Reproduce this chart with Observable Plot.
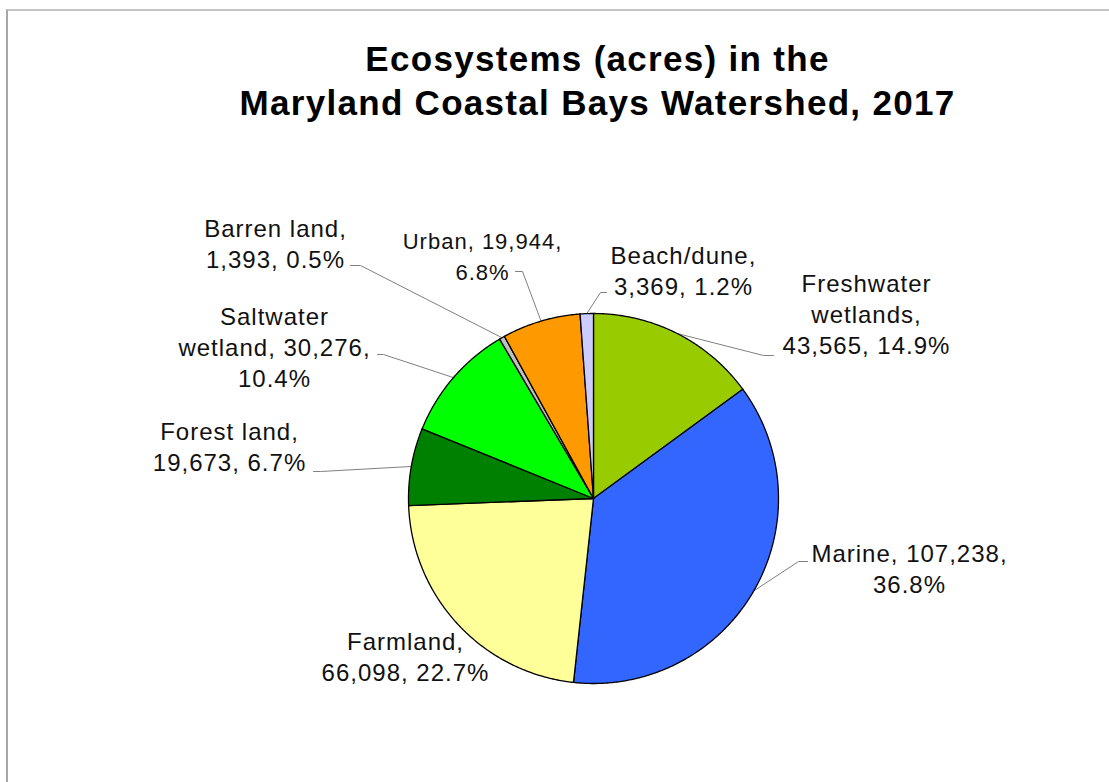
<!DOCTYPE html>
<html>
<head>
<meta charset="utf-8">
<script src="https://cdn.jsdelivr.net/npm/d3@7"></script>
<script src="https://cdn.jsdelivr.net/npm/@observablehq/plot@0.6"></script>
<style>
  html, body { margin: 0; padding: 0; background: #fff; width: 1109px; height: 782px; overflow: hidden; }
  #frame { position: absolute; left: 6px; top: 9px; width: 1120px; height: 800px;
           border-top: 2px solid #c4c4c4; border-left: 2px solid #a6a6a6; pointer-events: none; }
  #title { position: absolute; left: 0; top: 0; width: 1195px; height: 140px; box-sizing: border-box;
           padding-top: 37px; text-align: center; font-family: "Liberation Sans", Arial, sans-serif;
           font-weight: bold; font-size: 35px; line-height: 44px; letter-spacing: 1.3px; color: #000; }
  #chart { position: absolute; left: 0; top: 140px; }
</style>
</head>
<body>
<div id="frame"></div>
<div id="title">Ecosystems (acres) in the<br>Maryland Coastal Bays Watershed, 2017</div>
<div id="chart"></div>
<script>
// ---- data ----
const categories = ["Freshwater wetlands", "Marine", "Farmland", "Forest land", "Saltwater wetland", "Barren land", "Urban", "Beach/dune"];
const acres = [43565, 107238, 66098, 19673, 30276, 1393, 19944, 3369];
const colors = ["#99CC00", "#3366FF", "#FFFF99", "#008000", "#00FF00", "#C0C0C0", "#FF9900", "#CCCCFF"];

// ---- label layout (pixel offsets from the pie centre; y downward) ----
// lx,ly: label centre x / first-line cap top; ex,ey: leader end at label; bx,by: leader elbow
const labelLayout = [
  {wrapName: true,  breakAfter: "name",  lx: 273,  ly: -229, ex: 180,  ey: -143, bx: 170,  by: -143},
  {wrapName: false, breakAfter: "value", lx: 316,  ly: 41,   ex: 214,  ey: 63,   bx: 205,  by: 63},
  {wrapName: false, breakAfter: "name",  lx: -188, ly: 129,  ex: null},
  {wrapName: false, breakAfter: "name",  lx: -364, ly: -81,  ex: -280, ey: -27,  bx: -273, by: -27},
  {wrapName: true,  breakAfter: "value", lx: -319, ly: -196, ex: -216, ey: -144, bx: -210, by: -144},
  {wrapName: false, breakAfter: "name",  lx: -318, ly: -284, ex: -243, ey: -233, bx: -233, by: -233},
  {wrapName: false, breakAfter: "value", lx: -111, ly: -272, ex: -78,  ey: -227, bx: -71,  by: -227, small: true},
  {wrapName: false, breakAfter: "name",  lx: 90,   ly: -257, ex: 13,   ey: -206, bx: 7,    by: -206}
];

const W = 1109, H = 642, R = 185, CX = 593, CY = 358;
const u = (px) => px / R; // px offset -> data units (pie radius = 1)

const rows = categories.map((c, i) => ({cat: c, acres: acres[i], color: colors[i], i}));
const total = d3.sum(acres);
const arcs = d3.pie().sort(null).value(d => d.acres).startAngle(0).endAngle(2 * Math.PI)(rows);

// slice polygons
const slicePts = [];
for (const a of arcs) {
  slicePts.push({cat: a.data.cat, color: a.data.color, x: 0, y: 0});
  const n = Math.max(2, Math.ceil((a.endAngle - a.startAngle) / (Math.PI / 360)));
  for (let k = 0; k <= n; k++) {
    const t = a.startAngle + (a.endAngle - a.startAngle) * k / n;
    slicePts.push({cat: a.data.cat, color: a.data.color, x: Math.sin(t), y: Math.cos(t)});
  }
}

// leader lines
const leaderPts = [];
arcs.forEach((a, i) => {
  const L = labelLayout[i];
  if (L.ex == null) return;
  const m = (a.startAngle + a.endAngle) / 2;
  leaderPts.push({cat: a.data.cat, x: Math.sin(m), y: Math.cos(m)});
  leaderPts.push({cat: a.data.cat, x: u(L.bx), y: -u(L.by)});
  leaderPts.push({cat: a.data.cat, x: u(L.ex), y: -u(L.ey)});
});

// labels
const fmtV = d3.format(",");
const fmtP = d3.format(".1%");
const labels = arcs.map((a, i) => {
  const L = labelLayout[i];
  const name = L.wrapName ? a.data.cat.replace(" ", "\n") : a.data.cat;
  const v = fmtV(a.data.acres), p = fmtP(a.data.acres / total);
  const text = L.breakAfter === "name" ? `${name},\n${v}, ${p}` : `${name}, ${v},\n${p}`;
  return {text, x: u(L.lx), y: -u(L.ly), small: !!L.small};
});

const chart = Plot.plot({
  width: W, height: H, margin: 0,
  x: {domain: [-CX / R, (W - CX) / R], axis: null},
  y: {domain: [-(H - CY) / R, CY / R], axis: null},
  color: {type: "identity"},
  style: {background: "transparent", fontFamily: "'Liberation Sans', Arial, sans-serif", letterSpacing: "1px", overflow: "visible"},
  marks: [
    Plot.line(leaderPts, {x: "x", y: "y", z: "cat", stroke: "#808080", strokeWidth: 1}),
    Plot.line(slicePts, {x: "x", y: "y", z: "cat", fill: "color", stroke: "#000", strokeWidth: 1.3, curve: "linear-closed"}),
    Plot.text(labels.filter(d => !d.small), {x: "x", y: "y", text: "text", textAnchor: "middle", lineAnchor: "top", lineHeight: 1.3, fontSize: 24, fill: "#111"}),
    Plot.text(labels.filter(d => d.small), {x: "x", y: "y", text: "text", textAnchor: "middle", lineAnchor: "top", lineHeight: 1.42, fontSize: 22, fill: "#111"})
  ]
});
document.getElementById("chart").appendChild(chart);
</script>
</body>
</html>
